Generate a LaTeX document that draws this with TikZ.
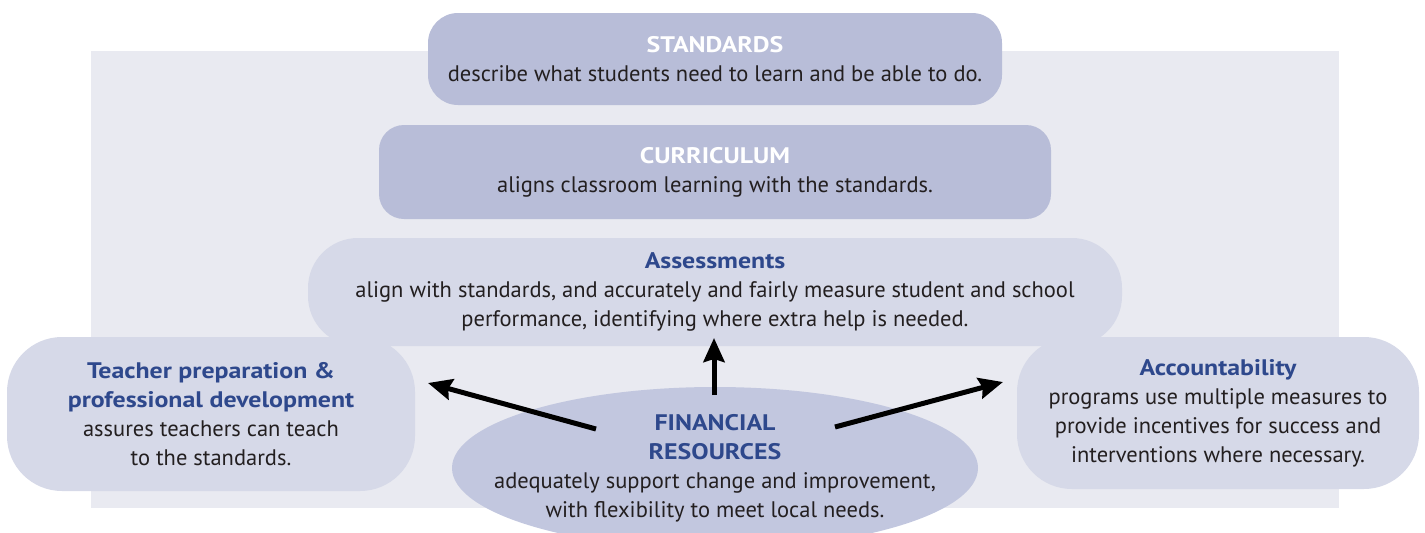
\documentclass[tikz,border=0pt]{standalone}
\usepackage{fontspec}
\setmainfont{PT Sans}[BoldFeatures={FakeStretch=1.15}]
\usetikzlibrary{shapes.geometric,arrows.meta}

\definecolor{pagebg}{RGB}{233,234,241}
\definecolor{boxdark}{RGB}{184,189,216}
\definecolor{boxlight}{RGB}{214,217,232}
\definecolor{ovalfill}{RGB}{194,199,223}
\definecolor{titleblue}{RGB}{46,72,140}
\definecolor{bodytext}{RGB}{35,31,32}

\tikzset{
  bodyfont/.style={font=\fontsize{22.5}{29}\selectfont, text=bodytext, align=center},
  darkbox/.style={bodyfont, fill=boxdark, inner sep=0pt},
  lightbox/.style={bodyfont, fill=boxlight, inner sep=0pt},
  pointer/.style={->, line width=5pt},
}
\newcommand{\whitehead}[1]{{\bfseries\color{white}#1}}
\newcommand{\bluehead}[1]{{\bfseries\color{titleblue}#1}}

\begin{document}
\begin{tikzpicture}[x=1pt, y=-1pt, >={Stealth[length=24pt, width=21pt, inset=3pt]}]
    \useasboundingbox (0,0) rectangle (1425,533);
    \fill[pagebg] (91,51) rectangle (1339,508);

    % the three tiers
    \node[darkbox, rounded corners=30pt, minimum width=574pt, minimum height=92pt] (standards) at (715,59)
      {\whitehead{STANDARDS}\\ describe what students need to learn and be able to do.};
    \node[darkbox, rounded corners=25pt, minimum width=672pt, minimum height=94pt] (curriculum) at (715,172)
      {\whitehead{CURRICULUM}\\ aligns classroom learning with the standards.};
    \node[lightbox, rounded corners=50pt, minimum width=814pt, minimum height=108pt] (assess) at (715,292)
      {\bluehead{Assessments}\\ align with standards, and accurately and fairly measure student and school\\ performance, identifying where extra help is needed.};

    % side boxes
    \node[lightbox, rounded corners=55pt, minimum width=408pt, minimum height=154pt] (teacher) at (211,414)
      {\bluehead{Teacher preparation \&}\\ \bluehead{professional development}\\ assures teachers can teach\\ to the standards.};
    \node[lightbox, rounded corners=55pt, minimum width=402pt, minimum height=152pt] (account) at (1218,413)
      {\bluehead{Accountability}\\ programs use multiple measures to\\ provide incentives for success and\\ interventions where necessary.};

    % money in the middle
    \node[ellipse, fill=ovalfill, minimum width=526pt, minimum height=162pt, inner sep=0pt] (money) at (715,468) {};
    \node[bodyfont, inner sep=0pt] (moneytext) at (715,468)
      {\bluehead{FINANCIAL}\\ \bluehead{RESOURCES}\\ adequately support change and improvement,\\ with flexibility to meet local needs.};

    \coordinate (fromL) at (596,429);
    \coordinate (fromM) at (714,395);
    \coordinate (fromR) at (835,427);
    \coordinate (toL) at (428,383);
    \coordinate (toM) at (714,338);
    \coordinate (toR) at (1003,382);
    \draw[pointer] (fromL) -- (toL);
    \draw[pointer] (fromM) -- (toM);
    \draw[pointer] (fromR) -- (toR);
\end{tikzpicture}
\end{document}
